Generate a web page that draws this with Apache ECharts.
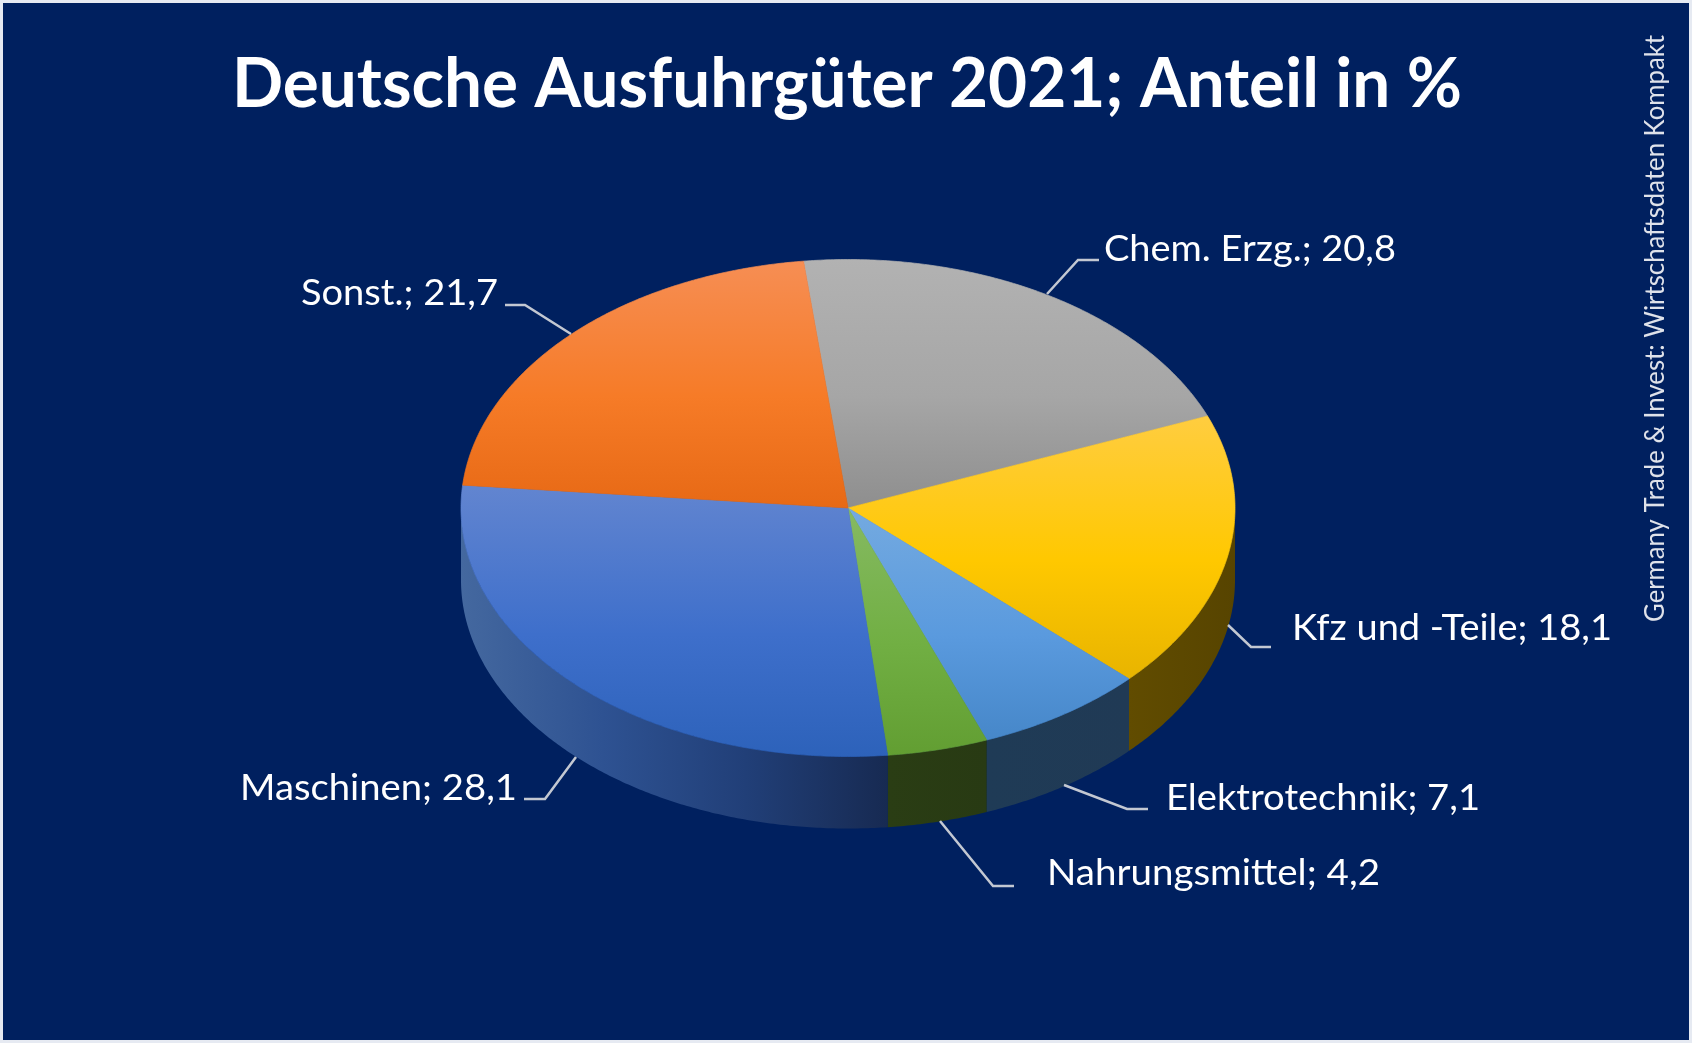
<!DOCTYPE html>
<html><head><meta charset="utf-8">
<style>html,body{margin:0;padding:0;background:#e6eaf2}#c{width:1692px;height:1043px}</style>
<script src="https://cdn.jsdelivr.net/npm/echarts@6/dist/echarts.min.js"></script>
</head><body><div id="c"></div>
<script>
// --- data ---
const categories = ['Chem. Erzg.', 'Kfz und -Teile', 'Elektrotechnik', 'Nahrungsmittel', 'Maschinen', 'Sonst.'];
const shares = [20.8, 18.1, 7.1, 4.2, 28.1, 21.7];
const titleText = 'Deutsche Ausfuhrgüter 2021; Anteil in %';
const sourceText = 'Germany Trade & Invest: Wirtschaftsdaten Kompakt';

// --- layout & style ---
const FONT = 'Lato, Carlito, Calibri, sans-serif';
const C = {x: 848, y: 508, rx: 387, ry: 248.5, depth: 72, start: -6.6};
const topGrad = [
  ['#b2b2b2', '#a6a6a6', '#8e8e8e'],
  ['#ffcd40', '#ffc800', '#e8b400'],
  ['#74aae0', '#5a9ade', '#4687c9'],
  ['#86ba62', '#71af43', '#629e32'],
  ['#6285d0', '#3e6fcb', '#2d62ba'],
  ['#f68e54', '#f67b27', '#e76915']
];
const rimGrad = [
  ['#6b6b6b', '#606060'],
  ['#614c00', '#574400'],
  ['#1f3b56', '#203a55'],
  ['#2a3d14', '#283a13'],
  ['#44689f', '#2e5292', '#213f78', '#172a52'],
  ['#a04e18', '#8a4414']
];
// label: left x, right x, baseline y; leader: text-side end, elbow, pie-side end
const labelBox = [[1104,1396,260],[1292,1612,639],[1166,1480,809],[1047,1380,884],[240,517,799],[301,498,304]];
const leaders = [
  [[1099,260],[1078,260],[1047,294]],
  [[1271,647],[1251,647],[1228,625]],
  [[1148,809],[1127,809],[1064,785]],
  [[1014,886],[993,886],[940,821]],
  [[524,799],[545,799],[576,757]],
  [[505,305],[525,305],[571,334]]
];

const total = shares.reduce((a, b) => a + b, 0);
function angles(i) {
  let s = 0;
  for (let k = 0; k < i; k++) s += shares[k];
  const a = C.start + s / total * 360;
  return [a, a + shares[i] / total * 360];
}
function pt(t, dy) {
  const r = t * Math.PI / 180;
  return [C.x + C.rx * Math.sin(r), C.y - C.ry * Math.cos(r) + (dy || 0)];
}
function arc(a, b, dy) {
  const out = [], n = Math.max(2, Math.ceil((b - a) / 0.5));
  for (let i = 0; i <= n; i++) out.push(pt(a + (b - a) * i / n, dy));
  return out;
}
const ctx = document.createElement('canvas').getContext('2d');
function fitScale(text, font, width) { ctx.font = font; return width / ctx.measureText(text).width; }
function vGrad(c) { return new echarts.graphic.LinearGradient(0, 0, 0, 1, [{offset: 0, color: c[0]}, {offset: .55, color: c[1]}, {offset: 1, color: c[2]}]); }
function hGrad(c) { return new echarts.graphic.LinearGradient(0, 0, 1, 0, c.map((col, k) => ({offset: k / (c.length - 1), color: col}))); }

function renderRim(p, api) {
  const i = p.dataIndex; api.value(1);
  const [a, b] = angles(i), lo = Math.max(a, 90), hi = Math.min(b, 270);
  if (hi <= lo) return {type: 'group', children: []};
  const pts = arc(lo, hi, 0).concat(arc(lo, hi, C.depth).reverse());
  return {type: 'polygon', shape: {points: pts}, style: {fill: hGrad(rimGrad[i])}};
}
function renderTop(p, api) {
  const i = p.dataIndex; api.value(1);
  const [a, b] = angles(i);
  const pts = [[C.x, C.y]].concat(arc(a, b, 0));
  const g = vGrad(topGrad[i]);
  return {type: 'polygon', shape: {points: pts}, style: {fill: g, stroke: g, lineWidth: 0.7}};
}
function renderLabel(p, api) {
  const i = p.dataIndex, v = api.value(1);
  const txt = categories[i] + '; ' + v.toFixed(1).replace('.', ',');
  const font = '36px ' + FONT, box = labelBox[i];
  return {type: 'group', children: [
    {type: 'polyline', shape: {points: leaders[i]}, style: {stroke: '#c3c8d2', lineWidth: 2.5, fill: null}},
    {type: 'text', x: box[0], y: box[2] - 11, scaleX: fitScale(txt, font, box[1] - box[0]),
     style: {text: txt, font, fill: '#ffffff', textAlign: 'left', textVerticalAlign: 'middle'}}
  ]};
}
const rows = categories.map((c, i) => [c, shares[i]]);
const titleFont = 'bold 68px ' + FONT, srcFont = '26px ' + FONT;
const chart = echarts.init(document.getElementById('c'), null, {renderer: 'canvas'});
chart.setOption({
  animation: false,
  backgroundColor: '#e6eaf2',
  graphic: [
    {type: 'rect', z: -10, silent: true, shape: {x: 3, y: 3, width: 1686, height: 1037}, style: {fill: '#00205f'}},
    {type: 'text', z: 10, x: 232, y: 85, scaleX: fitScale(titleText, titleFont, 1230),
     style: {text: titleText, font: titleFont, fill: '#fff', textAlign: 'left', textVerticalAlign: 'middle'}},
    {type: 'text', z: 10, x: 1656, y: 622, rotation: Math.PI / 2, scaleX: fitScale(sourceText, srcFont, 587),
     style: {text: sourceText, font: srcFont, fill: '#dfe2ea', textAlign: 'left', textVerticalAlign: 'middle'}}
  ],
  series: [
    {type: 'custom', coordinateSystem: 'none', z: 2, data: rows, renderItem: renderRim},
    {type: 'custom', coordinateSystem: 'none', z: 3, data: rows, renderItem: renderTop},
    {type: 'custom', coordinateSystem: 'none', z: 4, data: rows, renderItem: renderLabel}
  ]
});
</script></body></html>
